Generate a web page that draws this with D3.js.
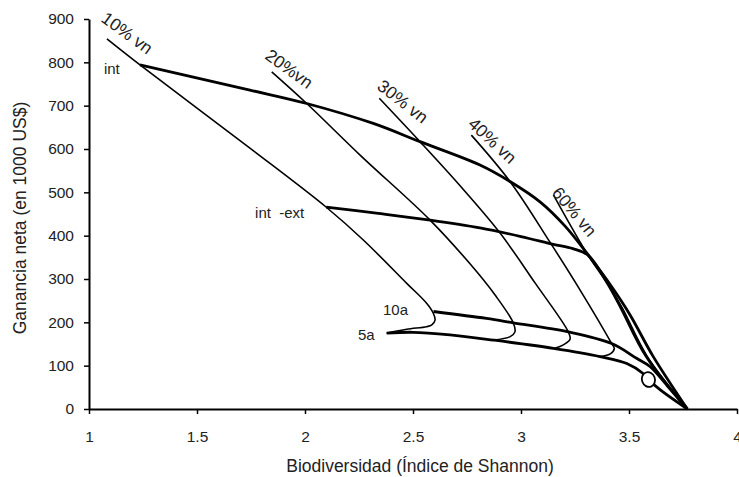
<!DOCTYPE html>
<html>
<head>
<meta charset="utf-8">
<script src="https://cdn.jsdelivr.net/npm/d3@7"></script>
<style>
  body { margin: 0; background: #fff; }
  svg text { font-family: "Liberation Sans", Arial, Helvetica, sans-serif; fill: #222; }
  .domain { stroke: #000; stroke-width: 2px; }
  .tick line { stroke: #000; stroke-width: 1.5px; }
</style>
</head>
<body>
<svg id="chart" width="739" height="477"></svg>
<script>

const xTicks = [1, 1.5, 2, 2.5, 3, 3.5, 4];
const yTicks = [0, 100, 200, 300, 400, 500, 600, 700, 800, 900];

// frontier curves (thick)  [biodiversity, net gain]
const intFrontier = [[1.236,794],[1.745,736],[2.008,705],[2.316,659],[2.532,617],[2.81,563],[2.949,525],[3.088,478],[3.204,422],[3.312,355],[3.42,282],[3.505,217],[3.611,122],[3.77,0]];
const intExtFrontier = [[2.098,466],[2.33,452],[2.58,436],[2.81,418],[3.0,398],[3.15,380],[3.24,370],[3.31,355],[3.40,290],[3.46,236],[3.58,121],[3.77,0]];
const frontier10a = [[2.595,225],[2.84,209],[2.964,199],[3.219,178],[3.42,151],[3.535,117],[3.597,98],[3.68,52],[3.77,0]];
const frontier5a = [[2.378,175],[2.50,177],[2.671,171],[2.872,159],[3.15,140],[3.366,121],[3.49,105],[3.565,82],[3.59,68],[3.645,44],[3.77,0]];

// native vegetation lines (thin)
const vn10 = [[1.083,854],[1.236,794],[1.745,602],[2.10,465],[2.27,390],[2.471,290],[2.563,244],[2.594,221],[2.602,205],[2.587,194],[2.563,190],[2.471,184],[2.378,175]];
const vn20 = [[1.846,778],[2.008,705],[2.255,586],[2.579,436],[2.764,335],[2.88,263],[2.964,199],[2.972,178],[2.95,167],[2.87,159]];
const vn30 = [[2.344,717],[2.532,617],[2.718,515],[2.903,406],[3.065,291],[3.219,178],[3.227,161],[3.196,148],[3.157,140]];
const vn40 = [[2.77,632],[2.949,525],[3.134,385],[3.273,275],[3.42,151],[3.432,140],[3.415,128],[3.366,121]];
const vn60 = [[3.15,494],[3.31,355],[3.41,282],[3.47,232],[3.585,121],[3.77,0]];

const marker = [3.59, 68];

const vnLabels = [
  { text: "10% vn", x: 1.051, y: 896, angle: 36 },
  { text: "20%vn",  x: 1.810, y: 810, angle: 36 },
  { text: "30% vn", x: 2.329, y: 740, angle: 38 },
  { text: "40% vn", x: 2.750, y: 655, angle: 43 },
  { text: "60% vn", x: 3.139, y: 498, angle: 50 }
];
const curveLabels = [
  { text: "int", x: 1.069, y: 773 },
  { text: "int  -ext", x: 1.769, y: 441 },
  { text: "10a", x: 2.361, y: 217 },
  { text: "5a", x: 2.245, y: 159 }
];

const margin = { left: 89, top: 19, right: 2, bottom: 68 };
const svg = d3.select("#chart");
const W = +svg.attr("width"), H = +svg.attr("height");

const x = d3.scaleLinear().domain([1, 4]).range([margin.left, W - margin.right]);
const y = d3.scaleLinear().domain([0, 900]).range([H - margin.bottom, margin.top]);

const line = d3.line()
  .x(d => x(d[0]))
  .y(d => y(d[1]))
  .curve(d3.curveCatmullRom.alpha(0.5));

const g = svg.append("g");

[vn10, vn20, vn30, vn40, vn60].forEach(s => {
  g.append("path").attr("d", line(s))
    .attr("fill", "none").attr("stroke", "#000").attr("stroke-width", 1.6);
});

[intFrontier, intExtFrontier, frontier10a, frontier5a].forEach(s => {
  g.append("path").attr("d", line(s))
    .attr("fill", "none").attr("stroke", "#000").attr("stroke-width", 2.8)
    .attr("stroke-linejoin", "round");
});

g.append("ellipse")
  .attr("transform", `translate(${x(marker[0])},${y(marker[1])}) rotate(-20)`)
  .attr("rx", 6.5).attr("ry", 7.5)
  .attr("fill", "#fff").attr("stroke", "#000").attr("stroke-width", 1.8);

// axes
const xAxis = d3.axisBottom(x).tickValues(xTicks).tickFormat(d => d)
  .tickSize(5).tickSizeOuter(0).tickPadding(17);
const yAxis = d3.axisLeft(y).tickValues(yTicks).tickFormat(d => d)
  .tickSize(5).tickSizeOuter(0).tickPadding(10);

svg.append("g").attr("transform", `translate(0,${y(0)})`).call(xAxis)
  .selectAll("text").style("font-size", "15.5px").attr("fill", "#222");
svg.append("g").attr("transform", `translate(${x(1)},0)`).call(yAxis)
  .selectAll("text").style("font-size", "15.5px").attr("fill", "#222");

svg.append("text")
  .attr("x", 420).attr("y", 472)
  .attr("text-anchor", "middle")
  .style("font-size", "17.5px")
  .text("Biodiversidad (Índice de Shannon)");

svg.append("text")
  .attr("transform", `translate(26,218) rotate(-90)`)
  .attr("text-anchor", "middle")
  .style("font-size", "17.5px")
  .text("Ganancia neta (en 1000 US$)");

vnLabels.forEach(l => {
  svg.append("text")
    .attr("transform", `translate(${x(l.x)},${y(l.y)}) rotate(${l.angle})`)
    .style("font-size", "17.5px")
    .attr("fill", "#000")
    .text(l.text);
});

curveLabels.forEach(l => {
  svg.append("text")
    .attr("x", x(l.x)).attr("y", y(l.y))
    .style("font-size", "15px")
    .style("white-space", "pre")
    .text(l.text);
});

</script>
</body>
</html>
